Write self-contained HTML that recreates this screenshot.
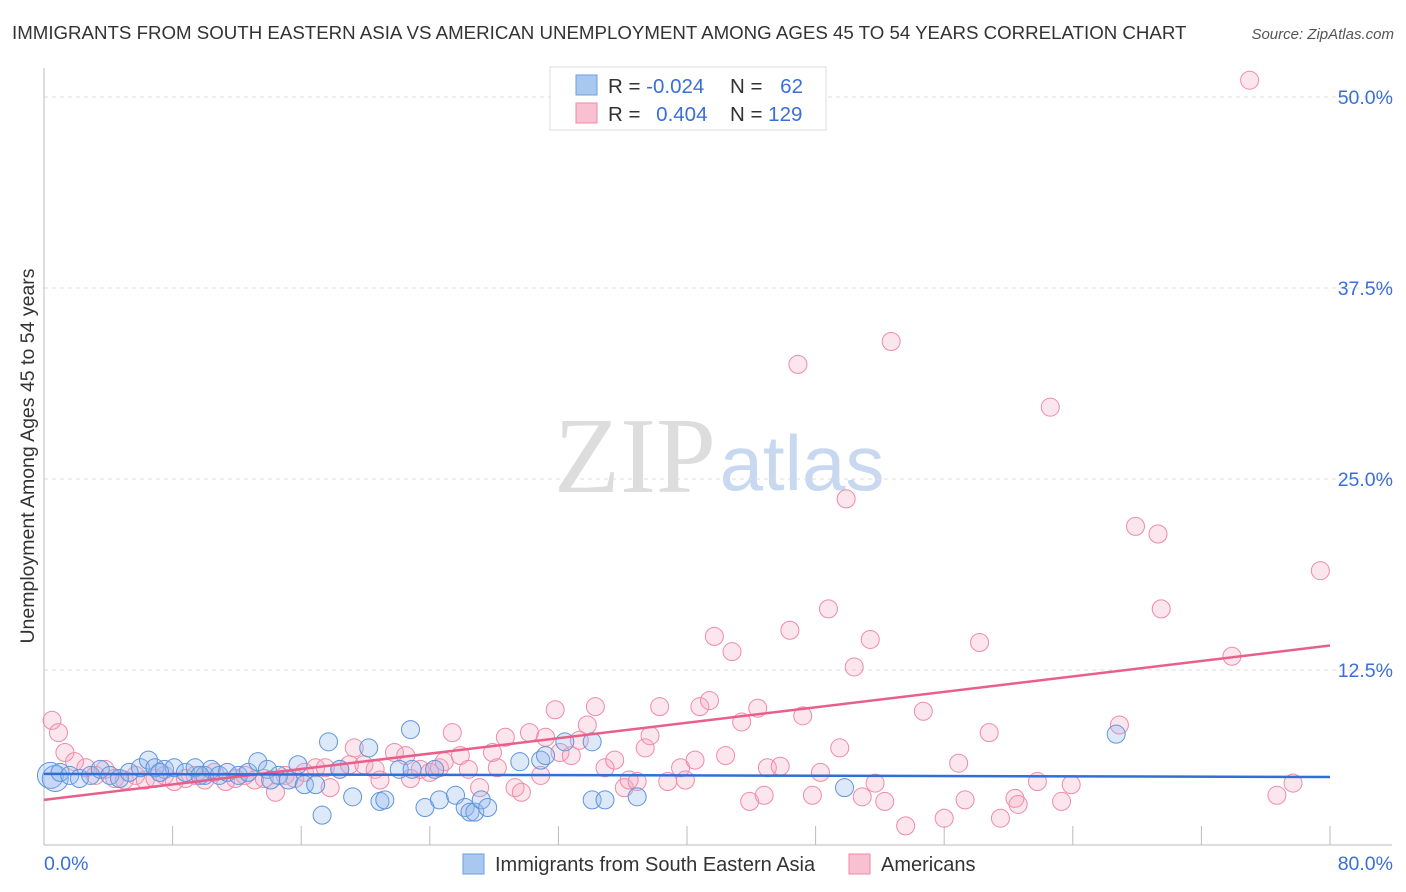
<!DOCTYPE html>
<html><head><meta charset="utf-8"><style>
body{margin:0;background:#fff;font-family:"Liberation Sans",sans-serif;}
svg{display:block}
</style></head><body>
<svg id="c" width="1406" height="892" xmlns="http://www.w3.org/2000/svg">
<text x="12" y="39" font-size="18.7" fill="#333">IMMIGRANTS FROM SOUTH EASTERN ASIA VS AMERICAN UNEMPLOYMENT AMONG AGES 45 TO 54 YEARS CORRELATION CHART</text>
<text x="1394" y="39" font-size="15" fill="#555" font-style="italic" text-anchor="end">Source: ZipAtlas.com</text>
<text transform="translate(34,456) rotate(-90)" font-size="19.5" fill="#333" text-anchor="middle">Unemployment Among Ages 45 to 54 years</text>
<g>
<text x="635" y="492" font-size="108" fill="#ddd" font-family="Liberation Serif,serif" text-anchor="middle">ZIP</text>
<text x="802" y="490" font-size="78" fill="#c8d8f0" text-anchor="middle">atlas</text>
</g>
<g id="grid"></g><g id="axes"></g><g id="pts"></g><g id="lines"></g>
<g>
<rect x="550" y="67" width="276" height="63" fill="#fff" stroke="#ddd"/>
<rect x="576" y="75" width="21" height="20" fill="#a8c8f0" stroke="#6a9fe0"/>
<rect x="576" y="103" width="21" height="20" fill="#f8c0d0" stroke="#f08aa8"/>
<text x="608" y="93" font-size="20.5" fill="#333">R = <tspan fill="#3a6fd8">-0.024</tspan></text>
<text x="730" y="93" font-size="20.5" fill="#333">N = <tspan fill="#3a6fd8" dx="12">62</tspan></text>
<text x="608" y="121" font-size="20.5" fill="#333">R = <tspan fill="#3a6fd8" dx="10">0.404</tspan></text>
<text x="730" y="121" font-size="20.5" fill="#333">N = <tspan fill="#3a6fd8">129</tspan></text>
</g>
<g>
<rect x="463" y="854" width="21" height="20" fill="#a8c8f0" stroke="#6a9fe0"/>
<text x="495" y="871" font-size="20" fill="#333">Immigrants from South Eastern Asia</text>
<rect x="849" y="854" width="21" height="20" fill="#f8c0d0" stroke="#f08aa8"/>
<text x="881" y="871" font-size="20" fill="#333">Americans</text>
</g>
</svg>
<script>
const yTicks=[12.5,25,37.5,50];
const yTickLabels=["12.5%","25.0%","37.5%","50.0%"];
const xTickVals=[0,8,16,24,32,40,48,56,64,72,80];
const blueX=[0.4,0.7,1.0,1.6,2.2,2.9,3.5,4.1,4.7,5.3,6.0,6.5,6.9,7.5,8.1,8.8,9.4,10.0,10.4,10.9,11.4,12.1,12.7,13.3,13.9,14.6,15.2,15.8,16.2,16.9,17.3,17.7,18.4,19.2,20.2,20.9,21.2,22.1,22.8,22.9,23.7,24.6,25.6,26.2,26.5,26.8,27.2,27.6,29.6,30.9,31.2,32.4,34.1,34.1,34.9,36.9,49.8,66.7,24.3,7.2,9.7,14.1];
const blueY=[5.6,5.4,5.8,5.6,5.4,5.6,6.0,5.6,5.4,5.8,6.1,6.6,6.1,6.0,6.1,5.8,6.1,5.6,6.0,5.6,5.8,5.6,5.8,6.5,6.0,5.6,5.3,6.3,5.0,5.0,3.0,7.8,6.0,4.2,7.4,3.9,4.0,6.0,8.6,6.0,3.5,4.0,4.3,3.5,3.2,3.2,4.0,3.5,6.5,6.6,6.9,7.8,7.8,4.0,4.0,4.2,4.8,8.3,6.0,5.8,5.6,5.3];
const pinkX=[0.5,0.9,1.3,1.9,2.6,3.2,3.8,4.4,5.0,5.7,6.3,6.9,7.5,8.1,8.8,9.4,10.0,10.6,11.3,11.9,12.5,13.1,13.7,14.4,15.0,15.6,16.2,16.9,17.5,17.8,18.4,19.0,19.3,19.9,20.6,20.9,21.8,22.5,22.8,23.4,24.0,24.6,24.9,25.4,25.9,26.4,27.1,27.9,28.2,28.7,29.3,29.7,30.2,30.9,31.2,31.8,32.1,32.8,33.3,33.8,34.3,34.9,35.5,36.1,36.4,36.9,37.4,37.7,38.3,38.8,39.6,39.9,40.5,40.8,41.4,41.7,42.4,42.8,43.4,44.4,45.0,45.8,43.9,44.8,46.4,46.9,47.2,47.8,48.3,48.8,49.5,49.9,50.4,50.9,51.4,51.7,52.3,52.7,53.6,54.7,56.0,56.9,57.3,58.2,58.8,59.5,60.4,60.6,61.8,62.6,63.3,63.9,66.9,67.9,69.3,69.5,73.9,75.0,76.7,77.7,79.4];
const pinkY=[9.2,8.4,7.1,6.5,6.1,5.6,6.0,5.4,5.3,5.6,5.3,5.4,5.6,5.2,5.4,5.6,5.3,5.8,5.2,5.4,5.6,5.3,5.4,4.5,5.6,5.4,5.8,6.1,6.1,4.8,6.0,6.3,7.4,6.3,6.0,5.3,7.1,6.9,5.4,6.0,5.8,6.1,6.5,8.4,6.9,6.0,4.8,7.1,6.1,8.1,4.8,4.5,8.4,5.6,8.1,9.9,7.1,6.9,7.9,8.9,10.1,6.1,6.6,4.8,5.3,5.2,7.4,8.2,10.1,5.2,6.1,5.3,6.6,10.1,10.5,14.7,6.9,13.7,9.1,10.0,6.1,6.2,3.9,4.3,15.1,32.5,9.5,4.3,5.8,16.5,7.4,23.7,12.7,4.2,14.5,5.1,3.9,34.0,2.3,9.8,2.8,6.4,4.0,14.3,8.4,2.8,4.1,3.7,5.2,29.7,3.9,5.0,8.9,21.9,21.4,16.5,13.4,51.1,4.3,5.1,19.0];
const blueTrend=[5.7,5.5];
const pinkTrend=[4.0,14.1];
const X=v=>44+v/80*1286;
const Y=v=>861-v/12.5*191;
const NS="http://www.w3.org/2000/svg";
function mk(tag,parent,attrs){const e=document.createElementNS(NS,tag);for(const k in attrs)e.setAttribute(k,attrs[k]);document.getElementById(parent).appendChild(e);return e;}
yTicks.forEach((t,i)=>{
  const g=mk('line','grid',{x1:44,x2:1392,y1:Y(t),y2:Y(t),stroke:'#ddd','stroke-dasharray':'4,4'});
  
  
  const l=mk('text','axes',{x:1393,y:Y(t)+7,'font-size':19.5,fill:'#3a6fd8','text-anchor':'end'});
  l.textContent=yTickLabels[i];
  
  
});
const ya=mk('line','axes',{x1:44,x2:44,y1:68,y2:845,stroke:'#bbb'});


const xa=mk('line','axes',{x1:44,x2:1392,y1:845,y2:845,stroke:'#bbb'});


xTickVals.forEach(t=>{
  const tk=mk('line','axes',{x1:X(t),x2:X(t),y1:826,y2:845,stroke:'#bbb'});
  
  
});
const x0=mk('text','axes',{x:44,y:870,'font-size':19.5,fill:'#3a6fd8'});x0.textContent='0.0%';


const x1=mk('text','axes',{x:1393,y:870,'font-size':19.5,fill:'#3a6fd8','text-anchor':'end'});x1.textContent='80.0%';


pinkX.forEach((v,i)=>{
  const c=mk('circle','pts',{cx:X(v),cy:Y(pinkY[i]),r:9,fill:'rgba(245,165,190,0.28)',stroke:'#f08aa8','stroke-width':1});
  
  
});
blueX.forEach((v,i)=>{
  const c=mk('circle','pts',{cx:X(v),cy:Y(blueY[i]),r:i<2?13:9,fill:'rgba(150,185,235,0.32)',stroke:'#5f95dd','stroke-width':1});
  
  
});
const pl=mk('line','lines',{x1:X(0),x2:X(80),y1:Y(pinkTrend[0]),y2:Y(pinkTrend[1]),stroke:'#e8608a','stroke-width':2.5});


const bl=mk('line','lines',{x1:X(0),x2:X(80),y1:Y(blueTrend[0]),y2:Y(blueTrend[1]),stroke:'#2f6fd6','stroke-width':2.5});


</script>
</body></html>
